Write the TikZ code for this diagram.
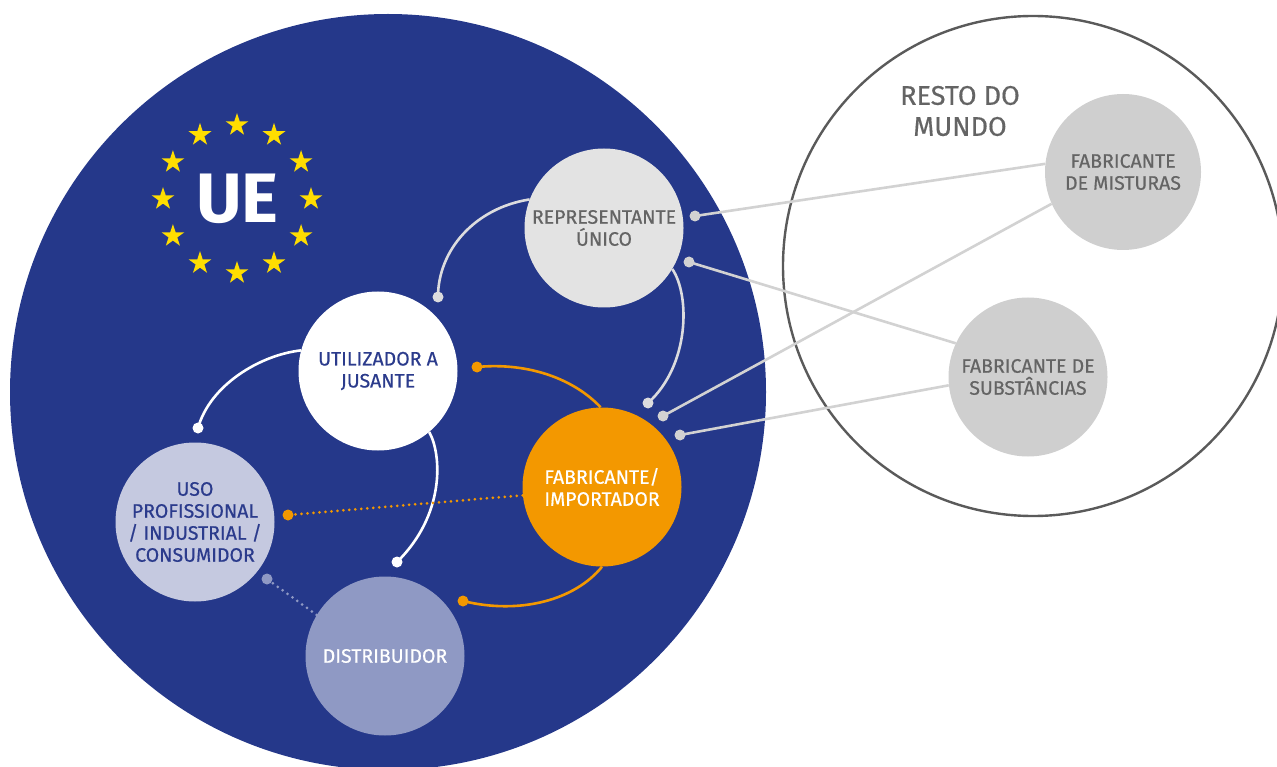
\documentclass[tikz,border=0pt]{standalone}
\usepackage{fontspec}
\setmainfont{Fira Sans}
\newfontfamily\labelfont[FakeBold=0.5]{Fira Sans}
\usetikzlibrary{shapes.geometric}
\definecolor{eublue}{RGB}{37,56,138}
\definecolor{eutext}{RGB}{43,59,140}
\definecolor{orangec}{RGB}{243,152,0}
\definecolor{repgray}{RGB}{227,227,227}
\definecolor{worldgray}{RGB}{207,207,207}
\definecolor{txtgray}{RGB}{100,100,100}
\definecolor{usofill}{RGB}{197,201,224}
\definecolor{distfill}{RGB}{143,153,196}
\definecolor{linegray}{RGB}{210,210,210}
\definecolor{arcgray}{RGB}{220,220,222}
\definecolor{ringgray}{RGB}{90,90,90}
\definecolor{staryellow}{RGB}{255,221,0}
\begin{document}
\begin{tikzpicture}[x=1pt,y=-1pt,
 actor/.style={circle, inner sep=0pt, minimum size=159pt, align=center, font=\labelfont\fontsize{19.5}{22}\selectfont},
 conn/.style={line width=2.6pt},
 dotline/.style={line width=3pt, line cap=round, dash pattern=on 0pt off 6pt},
 euStar/.style={star, star points=5, star point ratio=2.618, fill=staryellow, inner sep=0pt, minimum size=24pt}
]
\useasboundingbox (0,0) rectangle (1277,767);
% regions
\fill[eublue] (388,392) circle (378pt);
\draw[ringgray, line width=2.4pt] (1033,266) circle (250pt);
\node[txtgray, align=center, font=\labelfont\fontsize{27}{31}\selectfont] (rdm) at (960,111) {RESTO DO\\MUNDO};
% EU emblem
\node[text=white, font=\fontsize{70}{70}\bfseries\selectfont] (ue) at (237.5,199) {UE};
\foreach \i in {0,...,11}
  \node[euStar] (star\i) at ([shift={(\i*30:74)}]237,199) {};
% actors
\node[actor, fill=repgray, text=txtgray] (rep) at (604,228) {REPRESENTANTE\\ÚNICO};
\node[actor, fill=white, text=eutext] (util) at (378,371) {UTILIZADOR A\\JUSANTE};
\node[actor, fill=orangec, text=white] (fab) at (602,487) {FABRICANTE/\\IMPORTADOR};
\node[actor, fill=usofill, text=eutext] (uso) at (195,522) {USO\\PROFISSIONAL\\/ INDUSTRIAL /\\CONSUMIDOR};
\node[actor, fill=distfill, text=white] (dist) at (385,656) {DISTRIBUIDOR};
\node[actor, minimum size=156pt, fill=worldgray, text=txtgray] (mist) at (1123,172) {FABRICANTE\\DE MISTURAS};
\node[actor, fill=worldgray, text=txtgray] (subs) at (1028,377) {FABRICANTE DE\\SUBSTÂNCIAS};
% free ends
\coordinate (dRepU) at (438,297);
\coordinate (dRepF) at (648,403);
\coordinate (dUtilUso) at (198,428);
\coordinate (dUtilDist) at (397,562);
\coordinate (dFabUtil) at (477,367);
\coordinate (dFabDist) at (463,601);
\coordinate (dFabUso) at (288,515);
\coordinate (dDistUso) at (267,579);
\coordinate (dMistRep) at (695,216);
\coordinate (dMistFab) at (663,416);
\coordinate (dSubsRep) at (689,262);
\coordinate (dSubsFab) at (680,435);
% connectors
\draw[conn, arcgray] (rep.159) .. controls (475,208) and (438,250) .. (dRepU);
\draw[conn, arcgray] (rep.-31) .. controls (690,295) and (690,365) .. (dRepF);
\draw[conn, white] (util.165) .. controls (260,355) and (210,385) .. (dUtilUso);
\draw[conn, white] (util.-50) .. controls (442,455) and (445,515) .. (dUtilDist);
\draw[conn, orangec] (fab.91) .. controls (575,380) and (530,362) .. (dFabUtil);
\draw[conn, orangec] (fab.-90) .. controls (575,600) and (520,615) .. (dFabDist);
\draw[dotline, orangec] (fab.186) -- (dFabUso);
\draw[dotline, distfill] (dist.149) -- (dDistUso);
\draw[conn, linegray] (mist.174) -- (dMistRep);
\draw[conn, linegray] (mist.204) -- (dMistFab);
\draw[conn, linegray] (subs.155) -- (dSubsRep);
\draw[conn, linegray] (subs.186) -- (dSubsFab);
% end dots
\fill[arcgray] (dRepU) circle (5.5pt);
\fill[arcgray] (dRepF) circle (5.5pt);
\fill[white] (dUtilUso) circle (5.5pt);
\fill[white] (dUtilDist) circle (5.5pt);
\fill[orangec] (dFabUtil) circle (5.5pt);
\fill[orangec] (dFabDist) circle (5.5pt);
\fill[orangec] (dFabUso) circle (5.5pt);
\fill[distfill] (dDistUso) circle (5.5pt);
\fill[linegray] (dMistRep) circle (5.5pt);
\fill[linegray] (dMistFab) circle (5.5pt);
\fill[linegray] (dSubsRep) circle (5.5pt);
\fill[linegray] (dSubsFab) circle (5.5pt);
\end{tikzpicture}
\end{document}
